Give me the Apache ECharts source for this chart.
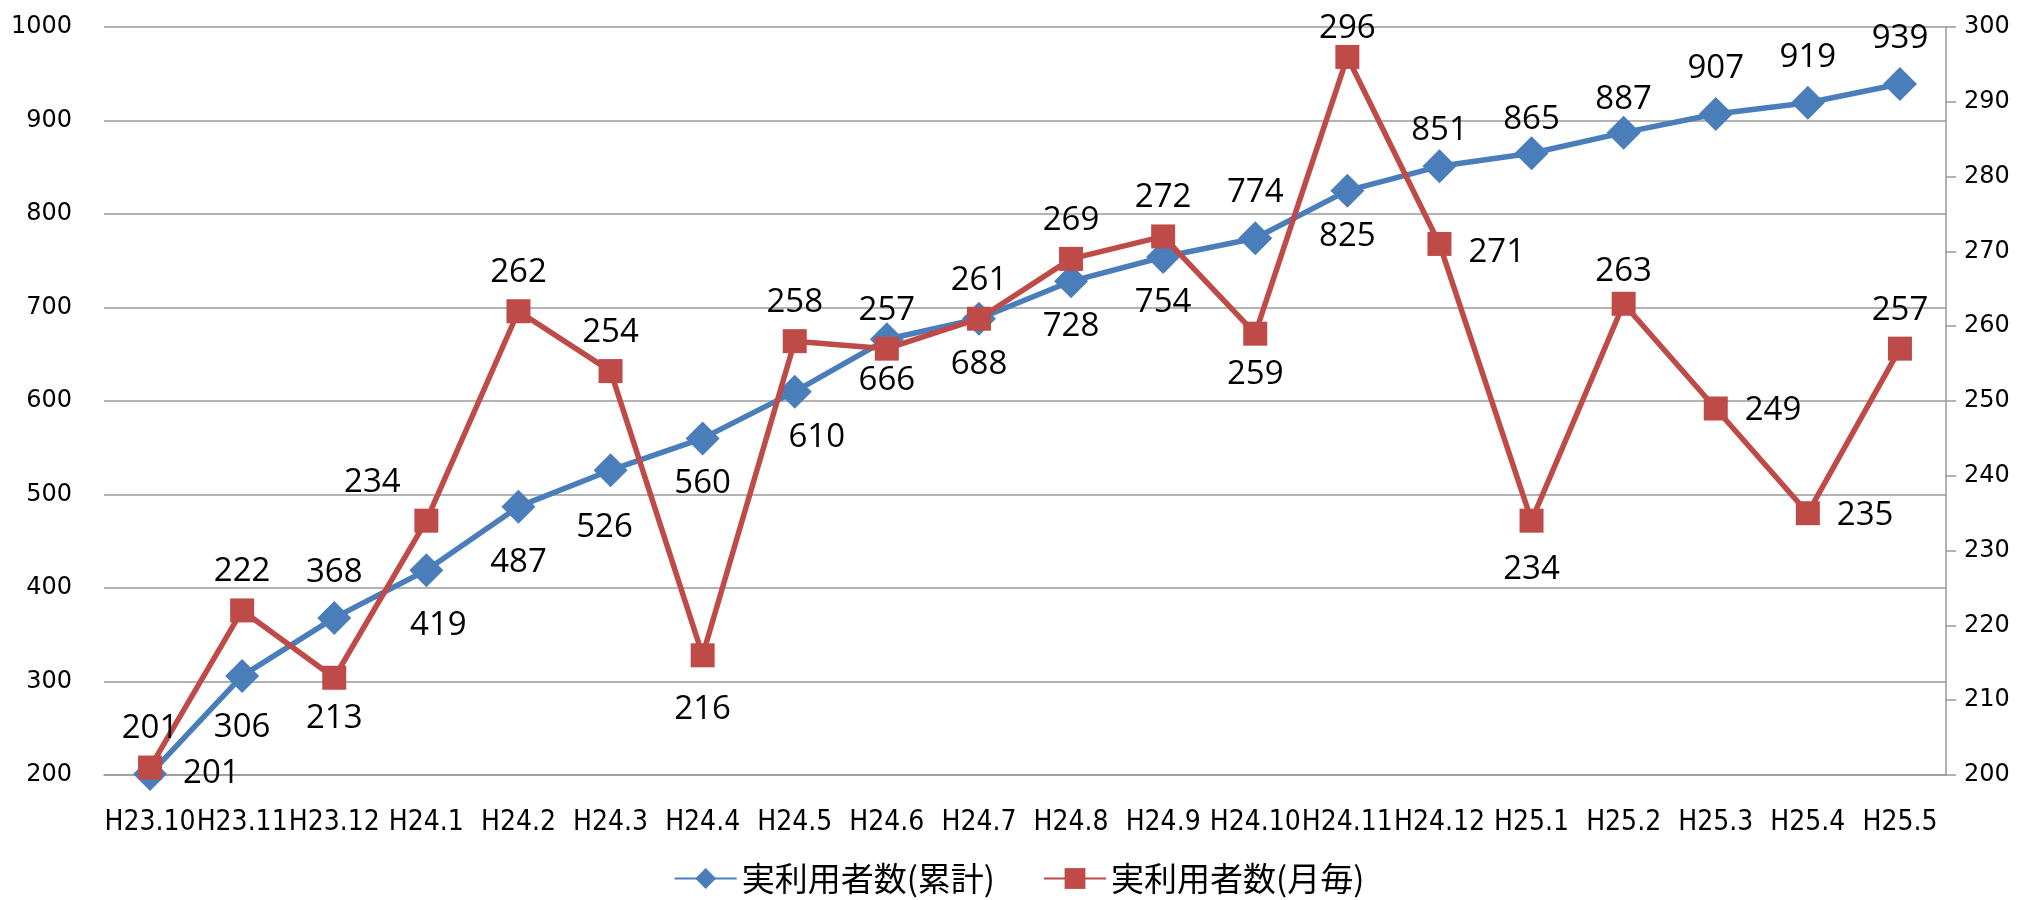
<!DOCTYPE html>
<html>
<head>
<meta charset="utf-8">
<script src="https://cdn.jsdelivr.net/npm/echarts@6/dist/echarts.min.js"></script>
<style>html,body{margin:0;padding:0;background:#fff;}#c{width:2038px;height:900px;}</style>
</head>
<body>
<div id="c"></div>
<script>
const categories = ['H23.10','H23.11','H23.12','H24.1','H24.2','H24.3','H24.4','H24.5','H24.6','H24.7','H24.8','H24.9','H24.10','H24.11','H24.12','H25.1','H25.2','H25.3','H25.4','H25.5'];
const cumulative = [201,306,368,419,487,526,560,610,666,688,728,754,774,825,851,865,887,907,919,939];
const monthly = [201,222,213,234,262,254,216,258,257,261,269,272,259,296,271,234,263,249,235,257];
const seriesNames = ['実利用者数(累計)','実利用者数(月毎)'];
const leftTicks = {min:200, max:1000, interval:100};
const rightTicks = {min:200, max:300, interval:10};

// label placement (style only)
const cumLabelPos = ['right','bottom','top','bottom','bottom','bottom','bottom','bottom','bottom','bottom','bottom','bottom','top','bottom','top','top','top','top','top','top'];
const monLabelPos = ['top','top','bottom','top','top','top','bottom','top','top','top','top','top','bottom','top','right','bottom','top','right','right','top'];
const cumOffset = {1:[0,6], 3:[12,10], 4:[0,10], 5:[-6,12], 7:[22,0], 8:[0,-4], 14:[0,10], 15:[0,12], 16:[0,12]};
const monOffset = {3:[-54,0], 6:[0,14], 13:[0,10], 14:[0,9], 15:[0,8], 16:[0,6], 17:[0,2], 18:[0,2]};

const BLUE = '#4A7EBB', RED = '#BE4B48';
const labelFont = {fontFamily:'Open Sans', fontSize:33, color:'#000'};

function build(vals, pos, offs, distTop, distBottom, distSide){
  return vals.map((v,i)=>{
    const p = pos[i];
    const d = p==='top'?distTop:(p==='bottom'?distBottom:distSide);
    return {value:v, label:{position:p, distance:d, offset: offs[i]||[0,0]}};
  });
}

const chart = echarts.init(document.getElementById('c'), null, {renderer:'canvas'});
chart.setOption({
  animation:false,
  backgroundColor:'#fff',
  grid:{left:104, right:92, top:27, bottom:125, containLabel:false},
  legend:{
    bottom:0, left:'center',
    itemWidth:62, itemHeight:26, itemGap:48,
    textStyle:{fontFamily:'Noto Sans CJK JP', fontSize:33, color:'#000'},
    data:seriesNames
  },
  xAxis:{
    type:'category', data:categories, boundaryGap:true,
    axisLine:{show:true, lineStyle:{color:'#9a9a9a', width:1.5}},
    axisTick:{show:false},
    axisLabel:{interval:0, margin:34, fontFamily:'Liberation Sans Narrow, DejaVu Sans Condensed, sans-serif', fontSize:28, color:'#000'}
  },
  yAxis:[
    {type:'value', min:leftTicks.min, max:leftTicks.max, interval:leftTicks.interval,
     axisLine:{show:false}, axisTick:{show:false},
     splitLine:{lineStyle:{color:'#9a9a9a', width:1.5}},
     axisLabel:{margin:32, fontFamily:'DejaVu Sans', fontSize:24, color:'#000', formatter:v=>String(v)}},
    {type:'value', min:rightTicks.min, max:rightTicks.max, interval:rightTicks.interval,
     position:'right',
     axisLine:{show:true, lineStyle:{color:'#9a9a9a', width:1.5}},
     axisTick:{show:true, length:10, lineStyle:{color:'#9a9a9a', width:1.5}},
     splitLine:{show:false},
     axisLabel:{margin:18, fontFamily:'DejaVu Sans', fontSize:24, color:'#000', formatter:v=>String(v)}}
  ],
  series:[
    {name:seriesNames[0], type:'line', yAxisIndex:0,
     data:build(cumulative, cumLabelPos, cumOffset, 12, 12, 16),
     symbol:'diamond', symbolSize:[34,34],
     lineStyle:{color:BLUE, width:5.5}, itemStyle:{color:BLUE},
     label:{show:true, ...labelFont}, z:2},
    {name:seriesNames[1], type:'line', yAxisIndex:1,
     data:build(monthly, monLabelPos, monOffset, 10, 12, 17),
     symbol:'rect', symbolSize:24,
     lineStyle:{color:RED, width:5.5}, itemStyle:{color:RED},
     label:{show:true, ...labelFont}, z:3}
  ]
});
</script>
</body>
</html>
